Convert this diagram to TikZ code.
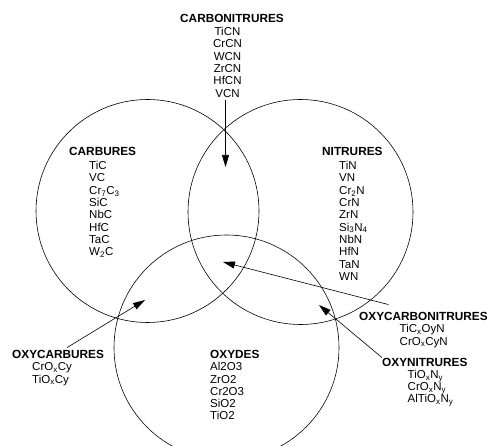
\documentclass[tikz,border=0pt]{standalone}
\usepackage{fontspec}
\setmainfont{Liberation Sans}
\usetikzlibrary{positioning, arrows.meta}
\tikzset{
    ring/.style={circle, draw, line width=0.6pt, minimum size=#1, inner sep=0pt},
    group title/.style={font=\fontsize{11.8}{13}\selectfont\bfseries, inner sep=0pt, anchor=base west},
    group item/.style={font=\fontsize{11.5}{13}\selectfont, inner sep=0pt, anchor=base west},
    pointer/.style={-{Triangle[length=12pt, width=7pt]}, line width=0.6pt},
}
\newcommand{\sub}[1]{\textsubscript{#1}}

\begin{document}
\begin{tikzpicture}[x=1pt, y=-1pt]
    \clip (0,0) rectangle (487,446);
    % the three families
    \node[ring=223pt] (carb ring) at (147.5,211) {};
    \node[ring=225pt] (nitr ring) at (300.5,212) {};
    \node[ring=225pt] (oxy ring) at (226.5,347.5) {};

    % carbonitrures
    \node[group title, anchor=base] (cn) at (232,23) {CARBONITRURES};
    \foreach \name [count=\i] in {TiCN, CrCN, WCN, ZrCN, HfCN, VCN}
        \node[group item, anchor=base] (cn-\i) at (227.5, {35.7+12.3*(\i-1)}) {\name};

    % carbures
    \node[group title] (carb) at (69,155.7) {CARBURES};
    \foreach \name [count=\i] in {TiC, VC, Cr\sub{7}C\sub{3}, SiC, NbC, HfC, TaC, W\sub{2}C}
        \node[group item] (carb-\i) at (89, {169.7+12.3*(\i-1)}) {\name};

    % nitrures
    \node[group title] (nitr) at (322,155.7) {NITRURES};
    \foreach \name [count=\i] in {TiN, VN, Cr\sub{2}N, CrN, ZrN, Si\sub{3}N\sub{4}, NbN, HfN, TaN, WN}
        \node[group item] (nitr-\i) at (339, {169.7+12.3*(\i-1)}) {\name};

    % oxydes
    \node[group title] (oxy) at (210,358) {OXYDES};
    \foreach \name [count=\i] in {Al2O3, ZrO2, Cr2O3, SiO2, TiO2}
        \node[group item] (oxy-\i) at (210, {370.7+12.3*(\i-1)}) {\name};

    % oxycarbures
    \node[group title] (oxc) at (12,358) {OXYCARBURES};
    \foreach \name [count=\i] in {CrO\sub{x}Cy, TiO\sub{x}Cy}
        \node[group item] (oxc-\i) at (32, {370.7+12.3*(\i-1)}) {\name};

    % oxycarbonitrures
    \node[group title] (oxcn) at (359,320) {OXYCARBONITRURES};
    \foreach \name [count=\i] in {TiC\sub{x}OyN, CrO\sub{x}CyN}
        \node[group item] (oxcn-\i) at (399.5, {332.7+12.3*(\i-1)}) {\name};

    % oxynitrures
    \node[group title] (oxn) at (382,366) {OXYNITRURES};
    \foreach \name [count=\i] in {TiO\sub{x}N\sub{y}, CrO\sub{x}N\sub{y}, AlTiO\sub{x}N\sub{y}}
        \node[group item] (oxn-\i) at (407.5, {378.3+12.3*(\i-1)}) {\name};

    % where the mixed phases sit
    \coordinate (cn tip) at (225.5,167);
    \coordinate (oxc tip) at (145,300);
    \coordinate (oxcn tip) at (223,262);
    \coordinate (oxn tip) at (319,305);

    \draw[pointer] (cn tip |- cn-6.south) ++(0,2.5) -- (cn tip);
    \draw[pointer] ([xshift=9pt, yshift=2pt]oxc.north) -- (oxc tip);
    \draw[pointer] ([xshift=-35pt, yshift=7pt]oxcn.north) -- (oxcn tip);
    \draw[pointer] (oxn.north west) -- (oxn tip);
\end{tikzpicture}
\end{document}
